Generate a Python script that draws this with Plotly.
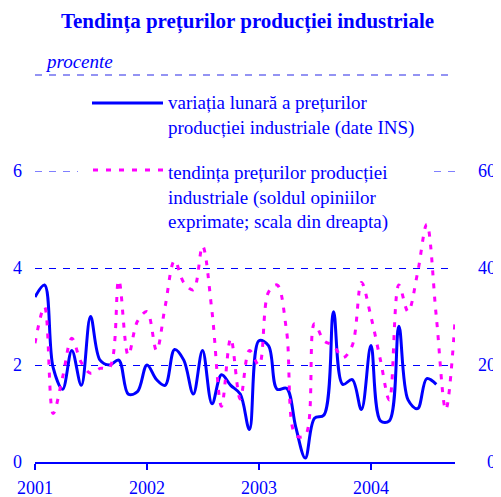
import plotly.graph_objects as go
import pandas as pd

# ---- data ----
months_blue = pd.date_range("2001-01-01", periods=44, freq="MS")
months_pink = pd.date_range("2001-01-01", periods=46, freq="MS")

variatia_lunara = [3.40, 3.65, 1.95, 1.50, 2.30, 1.58, 3.00, 2.10, 2.00, 2.10, 1.40, 1.45,
                   2.00, 1.70, 1.58, 2.32, 2.10, 1.40, 2.30, 1.20, 1.80, 1.58, 1.40, 0.67,
                   2.50, 2.40, 1.50, 1.52, 0.72, 0.08, 0.90, 0.97, 3.10, 1.60, 1.70, 1.08,
                   2.40, 0.85, 0.85, 2.80, 1.28, 1.10, 1.72, 1.60]

tendinta = [24.5, 32, 10, 17.5, 25.5, 20.5, 18.3, 19.3, 19.5, 37.5, 22, 29,
            31, 23, 32, 41.5, 37, 35.5, 44.5, 31, 11.5, 25.5, 13, 23,
            20, 35, 36.5, 27, 5.5, 5.5, 28.5, 25, 24, 21.5, 24, 37,
            30, 21, 12.8, 36.5, 31, 39, 49, 30, 10.8, 29]

year_ticks = ["2001-01-01", "2002-01-01", "2003-01-01", "2004-01-01"]
year_labels = ["2001", "2002", "2003", "2004"]
left_ticks = [0, 2, 4, 6]
right_ticks = [0, 20, 40, 60]
right_labels = ["\u20020", "20", "40", "60"]   # en space keeps the single digit right-aligned

title = "Tendința prețurilor producției industriale"
unit = "procente"
name_blue = "variația lunară a prețurilor<br>producției industriale (date INS)"
name_pink = "tendința prețurilor producției<br>industriale (soldul opiniilor<br>exprimate; scala din dreapta)"

BLUE = "#0000ff"
PINK = "#ff00ff"
FONT = "Liberation Serif"
YMAX = 6

fig = go.Figure()
fig.add_trace(go.Scatter(x=months_blue, y=variatia_lunara, mode="lines",
                         line=dict(color=BLUE, width=3, shape="spline", smoothing=1),
                         name=name_blue, yaxis="y"))
fig.add_trace(go.Scatter(x=months_pink, y=tendinta, mode="lines",
                         line=dict(color=PINK, width=3, shape="spline", smoothing=1, dash="5px,8px"),
                         name=name_pink, yaxis="y2"))

# page body has an 8px default margin: figure origin sits at (8, 8) of the window
OFF = 8
W, H = 501 - OFF, 497 - OFF
PL, PR, PT, PB = 35, 455, 171, 462        # plot area in window pixels
L, R, T, B = PL - OFF, W - (PR - OFF), PT - OFF, H - (PB - OFF)
pw, ph = W - L - R, H - T - B

def px(x):
    return (x - OFF - L) / pw

def py(y):
    return (H - B - (y - OFF)) / ph

fig.update_layout(
    width=W, height=H,
    margin=dict(l=L, r=R, t=T, b=B, autoexpand=False),
    plot_bgcolor="white", paper_bgcolor="white",
    showlegend=False,
    title=dict(text="<b>" + title + "</b>", x=(247.5 - OFF) / W, xref="container", xanchor="center",
               y=1 - (21 - OFF) / H, yref="container", yanchor="middle",
               font=dict(family=FONT, size=21, color=BLUE)),
    xaxis=dict(type="date", range=["2001-01-01", "2004-10-01"], automargin=False,
               tickvals=year_ticks, ticktext=year_labels,
               showgrid=False, showline=True, linecolor=BLUE, linewidth=1.5,
               ticks="outside", ticklen=6, tickwidth=1.5, tickcolor=BLUE,
               ticklabelstandoff=3,
               tickfont=dict(family=FONT, size=18, color=BLUE)),
    yaxis=dict(range=[0, YMAX], tickvals=left_ticks, showgrid=True, gridcolor=BLUE,
               griddash="7px,7px", gridwidth=1, zeroline=False, showline=False,
               ticks="", ticklabelstandoff=12, automargin=False,
               tickfont=dict(family=FONT, size=18, color=BLUE)),
    yaxis2=dict(range=[0, YMAX * 10], tickvals=right_ticks, ticktext=right_labels,
                overlaying="y", side="right",
                showgrid=False, zeroline=False, showline=False, ticks="",
                ticklabelstandoff=22, automargin=False,
                tickfont=dict(family=FONT, size=18, color=BLUE)),
)

grid_top = dict(color=BLUE, width=1, dash="7px,7px")
shapes = [
    # top gridline (at 6), interrupted by the legend block
    dict(type="line", xref="paper", yref="y", x0=0, x1=px(78), y0=YMAX, y1=YMAX,
         line=grid_top, layer="below"),
    dict(type="line", xref="paper", yref="y", x0=px(434), x1=1, y0=YMAX, y1=YMAX,
         line=grid_top, layer="below"),
    # dashed line under "procente"
    dict(type="line", xref="paper", yref="paper", x0=0, x1=1, y0=py(75), y1=py(75),
         line=dict(color="#7070f0", width=1.5, dash="7px,7px")),
    # legend symbols
    dict(type="line", xref="paper", yref="paper", x0=px(92), x1=px(163), y0=py(103), y1=py(103),
         line=dict(color=BLUE, width=3)),
    dict(type="line", xref="paper", yref="paper", x0=px(93), x1=px(163), y0=py(170), y1=py(170),
         line=dict(color=PINK, width=3, dash="5px,8px")),
]
fig.update_layout(shapes=shapes)

fig.add_annotation(xref="paper", yref="paper", x=px(43), y=py(61), xanchor="left", yanchor="middle",
                   text="<i>" + unit + "</i>", showarrow=False,
                   font=dict(family=FONT, size=19, color=BLUE))
fig.add_annotation(xref="paper", yref="paper", x=px(166), y=py(115.5), xanchor="left", yanchor="middle",
                   align="left", text=name_blue, showarrow=False,
                   font=dict(family=FONT, size=19, color=BLUE))
fig.add_annotation(xref="paper", yref="paper", x=px(166), y=py(197), xanchor="left", yanchor="middle",
                   align="left", text=name_pink, showarrow=False,
                   font=dict(family=FONT, size=19, color=BLUE))

fig.write_html("out.html")
